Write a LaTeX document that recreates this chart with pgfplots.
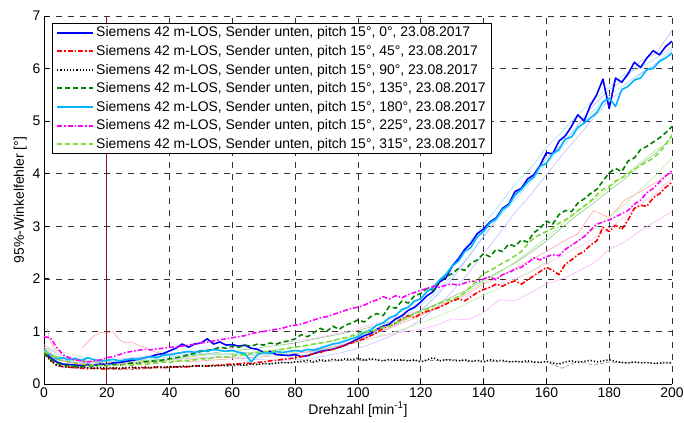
\documentclass[border=0pt]{standalone}
\usepackage{pgfplots}
\pgfplotsset{compat=1.18}
\usepackage{pgfplotstable}
\usepackage{fontspec}
\setmainfont{Liberation Sans}

\definecolor{cB}{RGB}{0,0,255}
\definecolor{cR}{RGB}{255,0,0}
\definecolor{cK}{RGB}{0,0,0}
\definecolor{cG}{RGB}{0,128,0}
\definecolor{cC}{RGB}{0,180,255}
\definecolor{cM}{RGB}{255,0,255}
\definecolor{cL}{RGB}{125,220,60}
\definecolor{cV}{RGB}{140,20,20}

\pgfplotsset{
  sB/.style={color=cB, line width=1.6bp},
  sR/.style={color=cR, line width=1.6bp, dash pattern=on 5bp off 2bp on 1.5bp off 2bp},
  sK/.style={color=cK, line width=1.6bp, dash pattern=on 1.2bp off 2bp},
  sG/.style={color=cG, line width=1.6bp, dash pattern=on 5bp off 3bp},
  sC/.style={color=cC, line width=1.6bp},
  sM/.style={color=cM, line width=1.6bp, dash pattern=on 5bp off 2bp on 1.5bp off 2bp},
  sL/.style={color=cL, line width=1.6bp, dash pattern=on 5bp off 3bp},
  sF/.style={line width=0.6bp},
}

\pgfplotstableread{
x b r k g c m l
0 0.62 0.62 0.58 0.58 0.65 0.90 0.62
2 0.50 0.46 0.45 0.48 0.55 0.88 0.55
4 0.42 0.36 0.36 0.40 0.48 0.70 0.48
6 0.38 0.33 0.33 0.36 0.50 0.56 0.44
8 0.37 0.32 0.32 0.35 0.46 0.50 0.42
10 0.36 0.31 0.31 0.34 0.48 0.46 0.40
12 0.35 0.30 0.32 0.33 0.45 0.44 0.38
14 0.37 0.29 0.31 0.35 0.50 0.42 0.37
16 0.36 0.30 0.30 0.34 0.46 0.44 0.36
18 0.38 0.29 0.31 0.36 0.44 0.46 0.35
20 0.37 0.29 0.30 0.35 0.45 0.50 0.36
22 0.40 0.30 0.31 0.37 0.47 0.52 0.35
24 0.41 0.29 0.30 0.36 0.44 0.56 0.36
26 0.43 0.30 0.31 0.38 0.46 0.60 0.37
28 0.45 0.31 0.32 0.40 0.48 0.62 0.36
30 0.47 0.30 0.31 0.39 0.47 0.64 0.38
32 0.50 0.31 0.32 0.42 0.50 0.66 0.37
34 0.52 0.31 0.31 0.44 0.52 0.65 0.39
36 0.56 0.32 0.33 0.43 0.50 0.67 0.40
38 0.58 0.31 0.32 0.46 0.55 0.68 0.42
40 0.63 0.32 0.33 0.48 0.56 0.70 0.41
42 0.68 0.33 0.32 0.50 0.58 0.70 0.43
44 0.76 0.32 0.34 0.52 0.60 0.72 0.45
46 0.70 0.33 0.33 0.56 0.62 0.74 0.44
48 0.76 0.34 0.35 0.58 0.60 0.76 0.46
50 0.78 0.35 0.34 0.62 0.64 0.78 0.48
52 0.86 0.34 0.35 0.64 0.62 0.80 0.47
54 0.76 0.36 0.34 0.66 0.66 0.82 0.50
56 0.80 0.35 0.36 0.70 0.64 0.84 0.52
58 0.74 0.37 0.35 0.68 0.62 0.86 0.51
60 0.75 0.38 0.36 0.72 0.64 0.88 0.54
62 0.72 0.38 0.37 0.70 0.60 0.90 0.56
64 0.74 0.40 0.36 0.74 0.58 0.92 0.55
66 0.68 0.39 0.38 0.72 0.42 0.96 0.58
68 0.66 0.41 0.37 0.76 0.56 0.98 0.60
70 0.60 0.42 0.39 0.74 0.60 1.00 0.62
72 0.62 0.44 0.38 0.78 0.58 1.02 0.61
74 0.56 0.45 0.40 0.76 0.62 1.04 0.64
76 0.55 0.47 0.41 0.80 0.60 1.06 0.66
78 0.54 0.48 0.40 0.82 0.62 1.10 0.68
80 0.56 0.50 0.42 0.86 0.64 1.12 0.70
82 0.52 0.52 0.43 0.94 0.62 1.14 0.72
84 0.54 0.55 0.45 0.90 0.66 1.18 0.74
86 0.58 0.58 0.42 0.98 0.64 1.22 0.76
88 0.62 0.60 0.46 1.06 0.68 1.26 0.78
90 0.64 0.64 0.44 1.00 0.72 1.28 0.80
92 0.66 0.66 0.47 1.10 0.76 1.32 0.82
94 0.70 0.70 0.45 1.04 0.78 1.36 0.86
96 0.74 0.74 0.48 1.12 0.82 1.40 0.88
98 0.80 0.78 0.46 1.16 0.86 1.44 0.92
100 0.86 0.82 0.49 1.22 0.90 1.46 0.96
102 0.92 0.86 0.45 1.18 0.98 1.50 1.00
104 0.96 0.92 0.48 1.28 1.02 1.56 0.98
106 1.04 0.98 0.46 1.34 1.12 1.60 1.04
108 1.10 1.06 0.44 1.30 1.16 1.66 1.08
110 1.14 1.10 0.47 1.48 1.26 1.62 1.10
112 1.24 1.16 0.45 1.44 1.30 1.68 1.16
114 1.30 1.24 0.46 1.58 1.42 1.64 1.22
116 1.40 1.30 0.44 1.54 1.46 1.70 1.28
118 1.46 1.26 0.46 1.68 1.58 1.74 1.34
120 1.56 1.34 0.42 1.72 1.62 1.78 1.38
122 1.68 1.38 0.46 1.82 1.76 1.82 1.42
124 1.76 1.42 0.50 1.78 1.84 1.86 1.48
126 1.94 1.46 0.44 1.98 1.98 1.84 1.54
128 2.02 1.52 0.46 2.04 2.08 1.88 1.58
130 2.24 1.58 0.45 2.10 2.24 1.90 1.62
132 2.38 1.62 0.44 2.20 2.34 1.88 1.66
134 2.56 1.58 0.46 2.16 2.52 1.92 1.74
136 2.68 1.66 0.43 2.30 2.60 1.96 1.86
138 2.86 1.74 0.45 2.36 2.80 1.94 1.98
140 2.95 1.80 0.42 2.48 2.90 2.00 2.10
142 3.08 1.84 0.46 2.42 3.06 2.04 2.16
144 3.16 1.90 0.44 2.56 3.14 1.98 2.22
146 3.34 1.86 0.45 2.52 3.32 2.08 2.30
148 3.42 1.92 0.42 2.66 3.40 2.12 2.36
150 3.66 1.96 0.43 2.62 3.60 2.18 2.44
152 3.72 1.90 0.42 2.74 3.70 2.22 2.52
154 3.90 1.98 0.44 2.70 3.84 2.30 2.66
156 3.98 2.06 0.42 2.88 3.94 2.40 2.78
158 4.16 2.14 0.41 2.96 4.14 2.36 2.84
160 4.40 2.22 0.43 3.10 4.20 2.42 2.90
162 4.38 2.16 0.40 3.04 4.38 2.46 2.96
164 4.62 2.08 0.38 3.22 4.46 2.44 3.06
166 4.72 2.28 0.42 3.30 4.66 2.56 3.12
168 4.90 2.36 0.44 3.28 4.70 2.64 3.20
170 5.12 2.46 0.41 3.44 4.88 2.72 3.30
172 5.00 2.52 0.43 3.52 4.96 2.80 3.38
174 5.30 2.64 0.45 3.62 5.06 2.92 3.48
176 5.50 2.72 0.42 3.70 5.16 3.04 3.60
178 5.80 2.98 0.44 3.86 5.36 3.08 3.70
180 5.24 2.90 0.46 4.02 5.44 3.12 3.76
182 5.82 3.02 0.43 4.10 5.28 3.18 3.86
184 5.74 2.94 0.41 4.04 5.60 3.24 3.92
186 5.90 3.12 0.40 4.24 5.66 3.30 4.00
188 6.12 3.34 0.42 4.30 5.78 3.42 4.08
190 6.02 3.40 0.40 4.46 5.82 3.50 4.16
192 6.20 3.38 0.41 4.52 5.98 3.64 4.22
194 6.34 3.54 0.39 4.60 6.00 3.72 4.30
196 6.26 3.62 0.40 4.68 6.14 3.84 4.40
198 6.42 3.74 0.41 4.78 6.20 3.96 4.56
200 6.52 3.84 0.40 4.90 6.30 4.06 4.74
}\main

\pgfplotstableread{
x fb1 fb2 fc1 fc2 fr1 fm1 fm2 fk1 fg1 fl1 fl2
0 0.55 0.60 0.70 0.62 0.70 0.60 0.75 0.60 0.62 0.70 0.58
5 0.45 0.48 0.55 0.50 0.45 0.45 0.55 0.40 0.50 0.62 0.52
10 0.42 0.40 0.50 0.46 0.38 0.40 0.45 0.34 0.44 0.55 0.46
15 0.40 0.38 0.48 0.44 0.36 0.38 0.42 0.30 0.42 0.48 0.43
20 0.42 0.36 0.46 0.42 0.38 0.38 0.44 0.28 0.40 0.45 0.41
25 0.45 0.38 0.48 0.44 0.40 0.40 0.48 0.27 0.42 0.44 0.40
30 0.48 0.40 0.50 0.46 0.40 0.42 0.52 0.28 0.44 0.42 0.42
35 0.52 0.42 0.52 0.48 0.42 0.44 0.56 0.30 0.46 0.43 0.44
40 0.55 0.46 0.54 0.52 0.44 0.46 0.58 0.31 0.48 0.44 0.46
45 0.60 0.48 0.56 0.54 0.42 0.48 0.62 0.33 0.52 0.46 0.50
50 0.62 0.50 0.58 0.56 0.44 0.50 0.64 0.34 0.56 0.48 0.54
55 0.64 0.52 0.56 0.58 0.46 0.50 0.66 0.35 0.60 0.50 0.56
60 0.62 0.50 0.58 0.56 0.48 0.52 0.68 0.34 0.64 0.52 0.58
65 0.60 0.48 0.55 0.42 0.50 0.54 0.72 0.36 0.66 0.54 0.60
70 0.58 0.46 0.58 0.54 0.52 0.56 0.76 0.38 0.70 0.56 0.62
75 0.56 0.45 0.60 0.56 0.54 0.60 0.78 0.40 0.74 0.58 0.66
80 0.58 0.46 0.62 0.58 0.58 0.64 0.82 0.42 0.78 0.60 0.70
85 0.62 0.48 0.66 0.60 0.62 0.66 0.86 0.41 0.84 0.64 0.74
90 0.66 0.54 0.74 0.66 0.68 0.70 0.92 0.43 0.90 0.68 0.80
95 0.74 0.60 0.82 0.74 0.74 0.76 0.98 0.45 0.96 0.74 0.86
100 0.82 0.68 0.94 0.84 0.84 0.82 1.06 0.44 1.02 0.80 0.92
105 0.94 0.78 1.08 0.96 0.96 0.88 1.14 0.46 1.10 0.88 1.00
110 1.06 0.90 1.26 1.12 1.06 0.94 1.22 0.44 1.18 0.96 1.10
115 1.22 1.04 1.42 1.30 1.18 1.00 1.32 0.45 1.28 1.06 1.22
120 1.40 1.22 1.64 1.50 1.30 1.04 1.40 0.44 1.40 1.16 1.34
125 1.68 1.46 1.92 1.74 1.44 1.12 1.50 0.45 1.52 1.28 1.46
130 2.00 1.76 2.26 2.06 1.58 1.24 1.58 0.47 1.66 1.40 1.60
135 2.40 2.10 2.66 2.42 1.72 1.22 1.68 0.43 1.80 1.54 1.76
140 2.80 2.48 3.04 2.82 1.90 1.36 1.78 0.44 1.98 1.68 1.94
145 3.20 2.86 3.40 3.18 2.04 1.60 1.90 0.42 2.14 1.82 2.12
150 3.56 3.26 3.80 3.50 2.20 1.58 2.00 0.43 2.30 1.98 2.32
155 3.90 3.60 4.10 3.84 2.36 1.74 2.14 0.40 2.50 2.14 2.54
160 4.30 3.98 4.50 4.20 2.52 1.90 2.28 0.42 2.72 2.32 2.78
165 4.56 4.36 4.80 4.50 2.70 2.00 2.44 0.30 2.98 2.52 3.04
170 4.92 4.70 5.12 4.84 2.86 2.14 2.60 0.44 3.22 2.72 3.28
175 5.30 5.06 5.40 5.20 3.30 2.30 2.76 0.36 3.44 2.94 3.50
180 5.60 5.40 5.64 5.50 3.16 2.56 2.96 0.42 3.68 3.18 3.74
185 5.80 5.62 5.90 5.70 3.50 2.70 3.18 0.40 3.90 3.42 3.98
190 6.14 5.90 6.02 5.92 3.66 2.92 3.42 0.42 4.18 3.70 4.22
195 6.30 6.10 6.20 6.06 3.84 3.10 3.64 0.39 4.40 3.98 4.46
200 6.72 6.36 6.40 6.28 4.02 3.28 3.92 0.40 4.70 4.30 4.62
}\faint

\begin{document}
\begin{tikzpicture}
\begin{axis}[
  scale only axis, width=628bp, height=368bp,
  xmin=0, xmax=200, ymin=0, ymax=7,
  xtick={0,20,...,200}, ytick={0,1,...,7},
  axis x line*=bottom, axis y line*=left,
  axis line style={black, line width=0.8bp},
  tick align=inside, major tick length=5bp,
  tick style={black, line width=0.8bp},
  grid=major,
  major grid style={black!80, line width=0.7bp, dash pattern=on 6bp off 6bp},
  /pgf/number format/assume math mode=true,
  tick label style={font=\fontsize{14}{16.5}\selectfont},
  label style={font=\fontsize{14}{16.5}\selectfont},
  xlabel={Drehzahl [min\textsuperscript{-1}]},
  ylabel={95\%-Winkelfehler [°]},
  xlabel style={yshift=2bp},
  ylabel style={yshift=-1bp},
  legend style={at={(0.0125,0.981)}, anchor=north west, draw=black, line width=0.8bp,
    font=\fontsize{14}{16.5}\selectfont, inner ysep=1.5bp, inner xsep=4bp, row sep=3bp},
  legend cell align=left,
  legend image code/.code={\draw[#1, line width=2bp] (0bp,0bp) -- (36bp,0bp);},
  every axis plot/.append style={line join=round},
]
% faint individual runs
\addplot[forget plot, sF, color=cB!30] table[x=x,y=fb1]{\faint};
\addplot[forget plot, sF, color=cB!25] table[x=x,y=fb2]{\faint};
\addplot[forget plot, sF, color=cC!40] table[x=x,y=fc1]{\faint};
\addplot[forget plot, sF, color=cC!35] table[x=x,y=fc2]{\faint};
\addplot[forget plot, sF, color=cR!35] table[x=x,y=fr1]{\faint};
\addplot[forget plot, sF, color=cR!35] coordinates {(1,1.05) (2,0.80) (4,0.62)};
\addplot[forget plot, sF, color=cR!35] coordinates {(12,0.68) (14,0.80) (16,0.92) (18,0.98) (20,0.97) (22,1.00) (24,0.84) (26,0.78) (28,0.80) (30,0.74) (32,0.70) (34,0.64) (36,0.60) (40,0.56)};
\addplot[forget plot, sF, color=cM!30] table[x=x,y=fm1]{\faint};
\addplot[forget plot, sF, color=cM!25] table[x=x,y=fm2]{\faint};
\addplot[forget plot, sF, color=black!45, dash pattern=on 4bp off 2bp] table[x=x,y=fk1]{\faint};
\addplot[forget plot, sF, color=cG!45] table[x=x,y=fg1]{\faint};
\addplot[forget plot, sF, color=cL!45] table[x=x,y=fl1]{\faint};
\addplot[forget plot, sF, color=cL!60] table[x=x,y=fl2]{\faint};
% reference line
\addplot[forget plot, color=cV, line width=0.8bp] coordinates {(20,0) (20,7)};
% main series
\addplot[forget plot, sB] table[x=x,y=b]{\main};
\addplot[forget plot, sR] table[x=x,y=r]{\main};
\addplot[forget plot, sK] table[x=x,y=k]{\main};
\addplot[forget plot, sG] table[x=x,y=g]{\main};
\addplot[forget plot, sC] table[x=x,y=c]{\main};
\addplot[forget plot, sM] table[x=x,y=m]{\main};
\addplot[forget plot, sL] table[x=x,y=l]{\main};
% legend
\addlegendimage{sB}
\addlegendentry{Siemens 42 m-LOS, Sender unten, pitch 15°, 0°, 23.08.2017}
\addlegendimage{sR}
\addlegendentry{Siemens 42 m-LOS, Sender unten, pitch 15°, 45°, 23.08.2017}
\addlegendimage{sK}
\addlegendentry{Siemens 42 m-LOS, Sender unten, pitch 15°, 90°, 23.08.2017}
\addlegendimage{sG}
\addlegendentry{Siemens 42 m-LOS, Sender unten, pitch 15°, 135°, 23.08.2017}
\addlegendimage{sC}
\addlegendentry{Siemens 42 m-LOS, Sender unten, pitch 15°, 180°, 23.08.2017}
\addlegendimage{sM}
\addlegendentry{Siemens 42 m-LOS, Sender unten, pitch 15°, 225°, 23.08.2017}
\addlegendimage{sL}
\addlegendentry{Siemens 42 m-LOS, Sender unten, pitch 15°, 315°, 23.08.2017}
\end{axis}
\pgfresetboundingbox
\path ([shift={(-44bp,-39bp)}]current axis.south west) rectangle ([shift={(12bp,16bp)}]current axis.north east);
\end{tikzpicture}
\end{document}
